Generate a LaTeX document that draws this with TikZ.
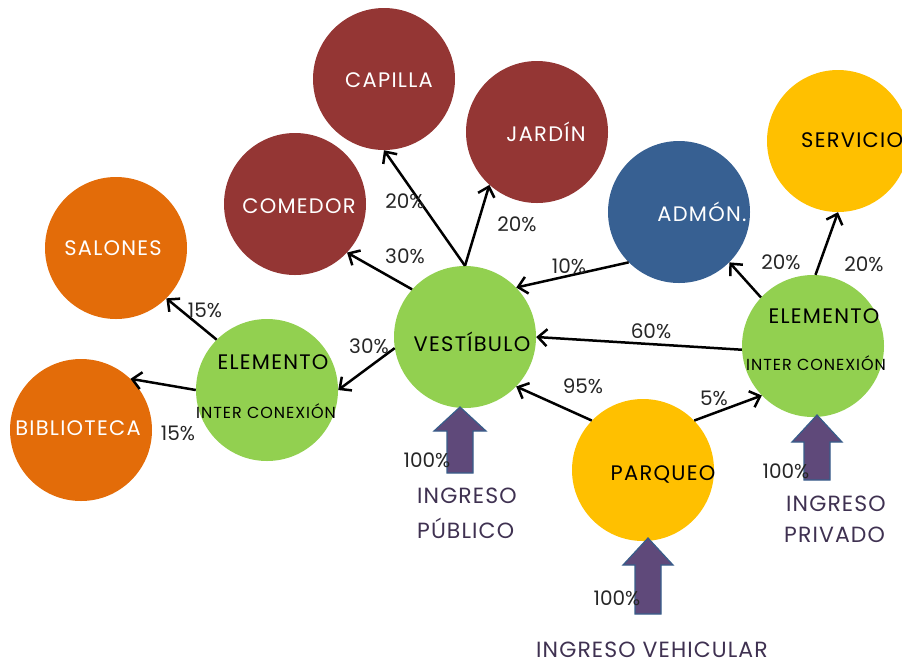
\documentclass[tikz,border=0pt]{standalone}
\usepackage{fontspec}
\setmainfont{Poppins}
\usetikzlibrary{arrows.meta}
\definecolor{dred}{HTML}{943634}
\definecolor{orng}{HTML}{E36C09}
\definecolor{grn}{HTML}{92D050}
\definecolor{blu}{HTML}{376092}
\definecolor{yel}{HTML}{FFC000}
\definecolor{purp}{HTML}{5F497A}
\definecolor{blueline}{HTML}{385D8A}
\definecolor{txtdark}{HTML}{262626}
\definecolor{ingr}{HTML}{3F3151}
\begin{document}
\begin{tikzpicture}[x=1pt,y=-1pt,
  bub/.style={circle, minimum size=142pt, inner sep=0pt},
  lab/.style={font=\fontsize{21}{24}\selectfont\addfontfeatures{LetterSpace=6}, inner sep=0pt},
  sml/.style={font=\fontsize{16}{19}\selectfont\addfontfeatures{LetterSpace=6}, inner sep=0pt},
  pct/.style={font=\fontsize{20}{23}\selectfont, text=txtdark, inner sep=0pt},
  ing/.style={font=\fontsize{22}{25}\selectfont\addfontfeatures{LetterSpace=5}, text=ingr, inner sep=0pt},
  con/.style={draw=black, line width=2.5pt, -{Straight Barb[length=9pt,width=17pt,line width=2.5pt]}},
  blk/.style={fill=purp, draw=blueline, line width=1.2pt, line join=miter},
]
\useasboundingbox (0,0) rectangle (902,665);
\clip (0,0) rectangle (902,665);
% circles
\node[bub, fill=dred] (cap) at (384,79) {};
\node[bub, fill=dred] (jar) at (537,132) {};
\node[bub, fill=dred] (com) at (295,204) {};
\node[bub, fill=orng] (sal) at (116,248) {};
\node[bub, fill=orng] (bib) at (81,430) {};
\node[bub, fill=grn] (elL) at (267,390) {};
\node[bub, fill=grn] (ves) at (465,337) {};
\node[bub, fill=blu] (adm) at (679,212) {};
\node[bub, fill=yel] (ser) at (838,141) {};
\node[bub, fill=grn] (elR) at (813,346) {};
\node[bub, fill=yel] (par) at (643,470) {};
% circle labels
\node[lab, text=white] (capT) at (389,80) {CAPILLA};
\node[lab, text=white] (jarT) at (546,132) {JARDÍN};
\node[lab, text=white] (comT) at (299,206) {COMEDOR};
\node[lab, text=white] (salT) at (113,248) {SALONES};
\node[lab, text=white] (bibT) at (78,428) {BIBLIOTECA};
\node[lab, text=black] (elLT1) at (273,362) {ELEMENTO};
\node[sml, text=black] (elLT2) at (266,411) {INTER CONEXIÓN};
\node[lab, text=black] (vesT) at (472,342) {VESTÍBULO};
\node[lab, text=white] (admT) at (702,212) {ADMÓN.};
\node[lab, text=black, anchor=west] (serT) at (801,140) {SERVICIO};
\node[lab, text=black] (elRT1) at (824,316) {ELEMENTO};
\node[sml, text=black] (elRT2) at (816,363) {INTER CONEXIÓN};
\node[lab, text=black] (parT) at (663,474) {PARQUEO};
% connectors
\draw[con] (ves.north) -- (cap.south);
\draw[con] (ves.north) -- (jar.228);
\draw[con] (ves.138) -- (com.317);
\draw[con] (ves.189) -- (elL.east);
\draw[con] (elL.135) -- (sal.315);
\draw[con] (elL.west) -- (bib.46);
\draw[con] (adm.225) -- (ves.44);
\draw[con] (elR.183) -- (ves.east);
\draw[con] (elR.137) -- (adm.315);
\draw[con] (elR.88) -- (ser.south);
\draw[con] (par.136) -- (ves.316);
\draw[con] (par.44) -- (elR.224);
% block arrows
\draw[blk] (460,407) -- ++(26,24) -- ++(-13,0) -- ++(0,42) -- ++(-26,0) -- ++(0,-42) -- ++(-13,0) -- cycle;
\draw[blk] (817,415) -- ++(25,27) -- ++(-12,0) -- ++(0,38) -- ++(-26,0) -- ++(0,-38) -- ++(-12,0) -- cycle;
\draw[blk] (648,538) -- ++(25,27) -- ++(-12,0) -- ++(0,49) -- ++(-26,0) -- ++(0,-49) -- ++(-12,0) -- cycle;
% percentages
\node[pct] (p1) at (405,201) {20\%};
\node[pct] (p2) at (517,224) {20\%};
\node[pct] (p3) at (405,256) {30\%};
\node[pct] (p4) at (569,266) {10\%};
\node[pct] (p5) at (781,262) {20\%};
\node[pct] (p6) at (864,264) {20\%};
\node[pct] (p7) at (651,331) {60\%};
\node[pct] (p8) at (205,310) {15\%};
\node[pct] (p9) at (369,346) {30\%};
\node[pct] (p10) at (583,386) {95\%};
\node[pct] (p11) at (714,398) {5\%};
\node[pct] (p12) at (178,433) {15\%};
\node[pct] (p13) at (427,460) {100\%};
\node[pct] (p14) at (786,471) {100\%};
\node[pct] (p15) at (617,598) {100\%};
% entrance labels
\node[ing, anchor=west] (i1) at (417,496) {INGRESO};
\node[ing, anchor=west] (i2) at (417,528) {PÚBLICO};
\node[ing, anchor=west] (i3) at (786,504) {INGRESO};
\node[ing, anchor=west] (i4) at (784,535) {PRIVADO};
\node[ing] (i5) at (652,650) {INGRESO VEHICULAR};
\end{tikzpicture}
\end{document}
